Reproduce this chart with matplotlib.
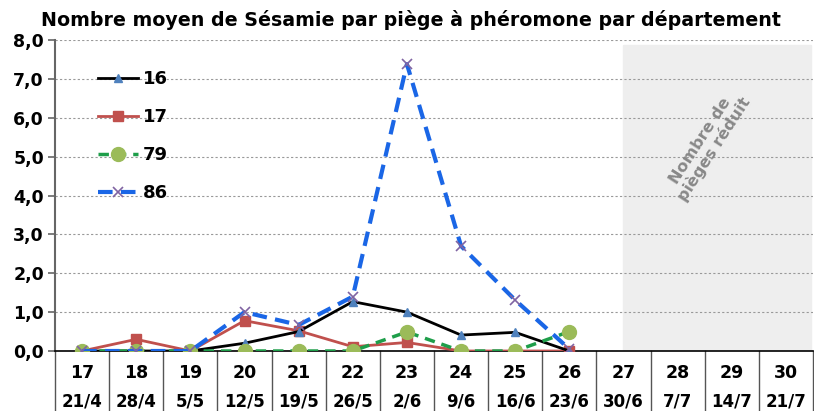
import numpy as np
import matplotlib.pyplot as plt
from matplotlib.transforms import blended_transform_factory

weeks = ['17', '18', '19', '20', '21', '22', '23', '24', '25', '26', '27', '28', '29', '30']
dates = ['21/4', '28/4', '5/5', '12/5', '19/5', '26/5', '2/6', '9/6', '16/6', '23/6',
         '30/6', '7/7', '14/7', '21/7']

# values per department (weeks 17 to 26)
dep16 = [0, 0, 0, 0.2, 0.5, 1.27, 1.0, 0.41, 0.48, 0.0]
dep17 = [0, 0.3, 0, 0.78, 0.52, 0.11, 0.22, 0, 0, 0]
dep79 = [0, 0, 0, 0, 0, 0, 0.49, 0, 0, 0.5]
dep86 = [0, 0, 0, 1.0, 0.67, 1.4, 7.38, 2.7, 1.31, 0.05]

plt.rcParams['font.family'] = ['DejaVu Sans']

fig = plt.figure(figsize=(8.14, 4.11), dpi=100)
W, H = 814, 411
ax = fig.add_axes([55 / W, 1 - 351 / H, 758 / W, 311 / H])

x = np.arange(len(dep16))

ax.plot(x, dep16, color='black', lw=2, marker='^', ms=6, mfc='#4f81bd', mec='#4f81bd', label='16', zorder=4)
ax.plot(x, dep17, color='#c0504d', lw=2, marker='s', ms=7, mfc='#c0504d', mec='#c0504d', label='17', zorder=3)
ax.plot(x, dep79, color='#1e9e4a', lw=2.5, ls=(0, (3, 2)), marker='o', ms=10, mfc='#9bbb59', mec='#9bbb59', label='79', zorder=5)
ax.plot(x, dep86, color='#1a66e6', lw=3, ls=(0, (3.5, 2)), marker='x', ms=7, mec='#8064a2', mew=1.2, label='86', zorder=6)

ax.set_xlim(-0.5, len(weeks) - 0.5)
ax.set_ylim(0, 8)
ax.set_yticks(range(0, 9))
ax.set_yticklabels(['%d,0' % v for v in range(0, 9)], fontsize=12.5, fontweight='bold')
ax.set_xticks([])
ax.yaxis.grid(True, color='#999999', ls=(0, (2, 2)), lw=0.8)
ax.set_axisbelow(True)
for s in ['top', 'right']:
    ax.spines[s].set_visible(False)
ax.spines['left'].set_color('#666666')
ax.spines['left'].set_linewidth(1.5)
ax.spines['bottom'].set_color('black')
ax.spines['bottom'].set_linewidth(1.2)
ax.tick_params(axis='y', length=5, color='#666666', width=1.2, pad=3)

# reduced traps area
ax.axvspan(10.0, 13.47, ymin=0, ymax=0.985, color='#eeeeee', zorder=0.5)
ax.text(11.55, 5.3, 'Nombre de\npièges réduit', rotation=57, ha='center', va='center',
        fontsize=11.5, fontweight='bold', color='#888888', linespacing=1.0)

# week / date table under the axis
tr = blended_transform_factory(ax.transData, ax.transAxes)
for i in range(len(weeks) + 1):
    ax.plot([i - 0.5, i - 0.5], [0, -0.2], color='#555555', lw=1, transform=tr, clip_on=False)
for i, (w, d) in enumerate(zip(weeks, dates)):
    ax.text(i, -0.07, w, transform=tr, ha='center', va='center', fontsize=12.5, fontweight='bold')
    ax.text(i, -0.162, d, transform=tr, ha='center', va='center', fontsize=12, fontweight='bold')

ax.legend(loc='upper left', bbox_to_anchor=(0.035, 0.955), frameon=False, handlelength=2.2,
          handletextpad=0.3, labelspacing=1.1, prop={'size': 13, 'weight': 'bold'})

fig.text(0.505, 1 - 20 / H, 'Nombre moyen de Sésamie par piège à phéromone par département',
         ha='center', va='center', fontsize=13.7, fontweight='bold')

fig.savefig('out.png', dpi=100)
